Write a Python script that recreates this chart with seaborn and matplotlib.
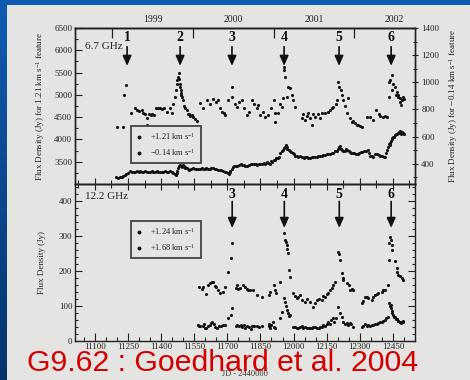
import numpy as np
import pandas as pd
import matplotlib
matplotlib.use("Agg")
import matplotlib.pyplot as plt
import seaborn as sns
from matplotlib.ticker import MultipleLocator, FixedLocator
from matplotlib.lines import Line2D
from matplotlib.patches import Rectangle

# ---------------- data ----------------
# 6.7 GHz, +1.21 km/s feature (left axis, Jy)
m67a_jd = [11200, 11228, 11230, 11241, 11262, 11280, 11292, 11300, 11312, 11320, 11328, 11335, 11337, 11345,
           11352, 11360, 11368, 11375, 11385, 11395, 11405, 11415, 11425, 11440, 11448, 11455, 11462, 11467,
           11471, 11474, 11477, 11481, 11483, 11484, 11486, 11488, 11490, 11492, 11494, 11500, 11505, 11510,
           11516, 11520, 11526, 11532, 11539, 11546, 11554, 11561, 11576, 11590, 11607, 11620, 11637, 11648,
           11659, 11668, 11675, 11683, 11690, 11705, 11720, 11723, 11735, 11743, 11752, 11765, 11775, 11788,
           11800, 11811, 11822, 11833, 11840, 11848, 11860, 11871, 11886, 11900, 11913, 11916, 11918, 11928,
           11938, 11946, 11954, 11957, 11958, 11960, 11969, 11977, 11984, 11992, 11999, 12007, 12037, 12044,
           12052, 12060, 12067, 12075, 12082, 12090, 12097, 12110, 12120, 12130, 12143, 12155, 12165, 12172,
           12180, 12190, 12196, 12203, 12206, 12215, 12221, 12226, 12233, 12241, 12248, 12256, 12263, 12270,
           12279, 12287, 12294, 12302, 12309, 12332, 12347, 12362, 12372, 12385, 12392, 12407, 12415, 12422,
           12433, 12434, 12437, 12445, 12448, 12452, 12460, 12463, 12467, 12472, 12475, 12480, 12483, 12486,
           12490, 12495, 12498]
m67a_flux = [4290, 4280, 5000, 5220, 4600, 4700, 4660, 4640, 4660, 4590, 4560, 4470, 4330, 4560,
             4550, 4570, 4540, 4700, 4700, 4700, 4690, 4700, 4620, 4700, 4600, 4800, 4950, 5100,
             5250, 5330, 5400, 5500, 5350, 5250, 5180, 5100, 5050, 5000, 4950, 4880, 4750, 4700,
             4660, 4580, 4560, 4520, 4550, 4500, 4450, 4420, 4810, 4700, 4880, 4800, 4900, 4850,
             4880, 4700, 4620, 4600, 4550, 4880, 5180, 4960, 4800, 4730, 4850, 4880, 4700, 4550,
             4620, 4880, 4800, 4700, 4780, 4550, 4620, 4510, 4550, 4700, 4880, 4590, 4400, 4590,
             4800, 4730, 4920, 5620, 5550, 5400, 4960, 5180, 5150, 5000, 4880, 4730, 4470, 4560,
             4430, 4520, 4590, 4480, 4320, 4560, 4510, 4580, 4470, 4600, 4590, 4620, 4660, 4700,
             4730, 4800, 4880, 5290, 5180, 5110, 5000, 4880, 4750, 4590, 4920, 4470, 4400, 4420,
             4360, 4330, 4320, 4300, 4290, 4510, 4510, 4440, 4660, 4560, 4520, 4500, 4520, 4510,
             5290, 4960, 5330, 5440, 5110, 5250, 5180, 5000, 5070, 4950, 5000, 4850, 4920, 4770,
             4880, 4960, 4900]

# 6.7 GHz, -0.14 km/s feature (right axis, Jy)
m67b_jd = [11195, 11205, 11215, 11222, 11228, 11235, 11241, 11250, 11259, 11268, 11275, 11283, 11290, 11298,
           11305, 11312, 11320, 11328, 11335, 11342, 11350, 11358, 11365, 11372, 11380, 11388, 11395, 11403,
           11410, 11418, 11425, 11432, 11440, 11448, 11455, 11462, 11466, 11470, 11474, 11478, 11482, 11486,
           11490, 11494, 11498, 11502, 11506, 11510, 11516, 11522, 11528, 11535, 11545, 11552, 11560, 11568,
           11575, 11583, 11590, 11598, 11605, 11613, 11620, 11628, 11635, 11643, 11650, 11658, 11665, 11672,
           11680, 11688, 11695, 11702, 11706, 11710, 11714, 11720, 11725, 11730, 11738, 11745, 11752, 11760,
           11768, 11775, 11782, 11790, 11798, 11805, 11812, 11820, 11828, 11835, 11842, 11850, 11858, 11865,
           11872, 11880, 11886, 11892, 11898, 11904, 11910, 11916, 11922, 11928, 11934, 11940, 11946, 11950,
           11955, 11960, 11965, 11968, 11972, 11978, 11984, 11990, 11996, 12002, 12008, 12015, 12022, 12030,
           12037, 12045, 12052, 12060, 12067, 12075, 12082, 12090, 12097, 12105, 12112, 12120, 12128, 12135,
           12143, 12150, 12158, 12165, 12172, 12180, 12188, 12195, 12200, 12205, 12210, 12215, 12220, 12226,
           12232, 12238, 12244, 12250, 12256, 12262, 12268, 12275, 12282, 12290, 12297, 12305, 12312, 12320,
           12328, 12335, 12342, 12348, 12355, 12362, 12370, 12378, 12385, 12392, 12400, 12408, 12414, 12420,
           12424, 12428, 12432, 12435, 12438, 12442, 12445, 12448, 12452, 12456, 12460, 12464, 12468, 12472,
           12476, 12480, 12484, 12488, 12492, 12496, 12500]
m67b_flux = [300, 295, 305, 300, 312, 315, 322, 330, 345, 338, 342, 340, 348, 340,
             345, 338, 342, 345, 336, 342, 340, 345, 340, 338, 344, 340, 342, 336,
             340, 345, 342, 338, 344, 340, 330, 325, 318, 330, 345, 365, 380, 392,
             385, 378, 388, 380, 372, 365, 370, 362, 355, 360, 365, 360, 362, 358,
             362, 365, 364, 362, 365, 360, 362, 368, 366, 362, 358, 355, 356, 350,
             345, 340, 338, 330, 326, 335, 345, 362, 372, 380, 382, 385, 390, 396,
             392, 392, 386, 385, 392, 400, 396, 395, 398, 392, 398, 395, 400, 402,
             398, 410, 402, 400, 418, 412, 430, 425, 438, 445, 452, 480, 492, 500,
             515, 525, 535, 520, 510, 498, 490, 488, 475, 468, 460, 455, 450, 458,
             448, 445, 452, 448, 440, 442, 448, 446, 450, 452, 455, 458, 460, 462,
             465, 468, 470, 474, 478, 482, 490, 495, 505, 520, 530, 510, 502, 495,
             492, 505, 498, 490, 485, 482, 478, 475, 472, 470, 478, 485, 488, 490,
             495, 502, 478, 460, 455, 450, 468, 472, 465, 460, 455, 450, 448, 478,
             500, 520, 545, 555, 535, 570, 580, 590, 600, 595, 610, 620, 615, 628,
             635, 640, 625, 620, 632, 628, 615]

# 12.2 GHz, +1.24 km/s feature (Jy)
m122a_jd = [11572, 11585, 11591, 11604, 11614, 11622, 11629, 11637, 11643, 11649, 11659, 11667, 11679, 11690,
            11705, 11717, 11720, 11739, 11746, 11750, 11758, 11770, 11780, 11788, 11795, 11803, 11815, 11833,
            11856, 11890, 11892, 11912, 11916, 11920, 11939, 11957, 11962, 11965, 11968, 11970, 11974, 11978,
            11984, 11999, 12007, 12014, 12022, 12029, 12040, 12052, 12063, 12075, 12090, 12098, 12105, 12115,
            12128, 12135, 12143, 12150, 12158, 12165, 12173, 12180, 12188, 12203, 12206, 12211, 12218, 12222,
            12226, 12240, 12249, 12256, 12263, 12271, 12309, 12316, 12324, 12331, 12339, 12354, 12362, 12369,
            12377, 12384, 12399, 12407, 12414, 12427, 12433, 12437, 12440, 12445, 12448, 12434, 12460, 12467,
            12470, 12475, 12483, 12490, 12497]
m122a_flux = [154, 150, 156, 134, 161, 165, 170, 170, 158, 154, 146, 137, 141, 154,
              199, 237, 280, 151, 160, 148, 152, 161, 154, 150, 146, 145, 145, 132,
              125, 132, 140, 160, 146, 138, 170, 309, 290, 285, 275, 265, 252, 203,
              183, 137, 130, 122, 125, 132, 118, 113, 120, 113, 98, 110, 118, 120,
              118, 128, 127, 135, 137, 145, 151, 160, 170, 256, 250, 232, 194, 180,
              175, 165, 161, 146, 150, 146, 108, 115, 127, 125, 122, 118, 125, 132,
              135, 137, 141, 145, 146, 161, 280, 299, 290, 275, 261, 232, 230, 208,
              199, 190, 185, 180, 175]

# 12.2 GHz, +1.68 km/s feature (Jy)
m122b_jd = [11565, 11572, 11578, 11588, 11595, 11600, 11605, 11612, 11620, 11626, 11630, 11638, 11645, 11652,
            11660, 11670, 11680, 11690, 11705, 11717, 11720, 11739, 11745, 11752, 11760, 11768, 11775, 11782,
            11790, 11798, 11805, 11812, 11820, 11833, 11842, 11856, 11888, 11890, 11894, 11900, 11906, 11911,
            11916, 11939, 11946, 11957, 11962, 11966, 11970, 11974, 11978, 11984, 11999, 12007, 12014, 12022,
            12029, 12037, 12044, 12052, 12060, 12068, 12075, 12083, 12090, 12098, 12105, 12113, 12120, 12128,
            12135, 12143, 12150, 12158, 12163, 12170, 12178, 12185, 12192, 12203, 12211, 12218, 12226, 12233,
            12241, 12248, 12255, 12262, 12270, 12309, 12316, 12324, 12331, 12339, 12347, 12354, 12362, 12369,
            12377, 12384, 12392, 12399, 12407, 12414, 12420, 12427, 12433, 12437, 12440, 12442, 12445, 12448,
            12452, 12456, 12460, 12463, 12467, 12472, 12475, 12480, 12483, 12487, 12490, 12494, 12497]
m122b_flux = [45, 42, 42, 44, 48, 36, 38, 42, 47, 52, 55, 50, 40, 38,
              42, 44, 45, 47, 65, 75, 94, 43, 45, 44, 46, 40, 47, 38,
              42, 40, 35, 44, 44, 43, 40, 44, 42, 50, 38, 45, 55, 40,
              36, 65, 84, 122, 113, 100, 90, 80, 72, 75, 41, 40, 36, 38,
              41, 44, 38, 40, 38, 36, 37, 38, 41, 39, 36, 38, 41, 40,
              45, 42, 49, 55, 50, 60, 65, 55, 65, 98, 79, 70, 55, 50,
              51, 45, 52, 48, 41, 40, 43, 50, 42, 45, 44, 47, 45, 48,
              50, 52, 55, 54, 57, 60, 65, 70, 110, 100, 104, 95, 85, 80,
              75, 70, 68, 62, 62, 58, 58, 55, 55, 52, 54, 56, 55]

flare_numbers_67 = [1, 2, 3, 4, 5, 6]
flare_jd_67 = [11246, 11486, 11721, 11957, 12206, 12442]
flare_numbers_122 = [3, 4, 5, 6]
flare_jd_122 = [11722, 11958, 12207, 12442]

years = ["1999", "2000", "2001", "2002"]
year_start_jd = [11179.5, 11544.5, 11910.5, 12275.5]
year_mid_jd = [11362, 11727, 12093, 12458]

legend_67 = ["+1.21 km s$^{-1}$", "\u22120.14 km s$^{-1}$"]
legend_122 = ["+1.24 km s$^{-1}$", "+1.68 km s$^{-1}$"]

# ---------------- style ----------------
sns.set_theme(style="ticks")
plt.rcParams["font.family"] = ["Liberation Serif", "DejaVu Serif"]
plt.rcParams["mathtext.fontset"] = "custom"
plt.rcParams["mathtext.rm"] = "Liberation Serif"
plt.rcParams["mathtext.it"] = "Liberation Serif:italic"
plt.rcParams["mathtext.default"] = "regular"

W, H = 470, 380
fig = plt.figure(figsize=(W / 100, H / 100), dpi=100)

# slide background gradient
bg = fig.add_axes([0, 0, 1, 1], zorder=-10)
t = np.linspace(0, 1, 200)[:, None]
top_c = np.array([0.06, 0.36, 0.70])
bot_c = np.array([0.03, 0.20, 0.42])
grad = (top_c[None, None, :] * (1 - t[..., None]) + bot_c[None, None, :] * t[..., None])
grad = np.repeat(grad, 2, axis=1)
bg.imshow(grad, aspect="auto", extent=[0, 1, 0, 1])
bg.axis("off")
panel_col = "#e4e4e2"
fig.add_artist(Rectangle((7 / W, 0), 1, (H - 5) / H, transform=fig.transFigure,
                         facecolor=panel_col, edgecolor="none", zorder=-5))

ax1 = fig.add_axes([75 / W, 1 - 184 / H, 340 / W, 156 / H])
ax2 = fig.add_axes([75 / W, 1 - 341 / H, 340 / W, 157 / H])
ax1.set_facecolor("none")
ax2.set_facecolor("none")
ax1r = ax1.twinx()

dot = dict(color="#111111", s=5, linewidth=0, marker="o", legend=False)
sns.scatterplot(x=m67a_jd, y=m67a_flux, ax=ax1, **dot)
sns.scatterplot(x=m67b_jd, y=m67b_flux, ax=ax1r, **dot)
sns.scatterplot(x=m122a_jd, y=m122a_flux, ax=ax2, **dot)
sns.scatterplot(x=m122b_jd, y=m122b_flux, ax=ax2, **dot)

xlim = (11010, 12550)
for a in (ax1, ax2):
    a.set_xlim(*xlim)
    for s in a.spines.values():
        s.set_visible(True)
        s.set_linewidth(1.0)
        s.set_color("#222222")
for s in ax1r.spines.values():
    s.set_linewidth(1.0)
    s.set_color("#222222")

ax1.set_ylim(3000, 6500)
ax1r.set_ylim(250, 1400)
ax2.set_ylim(0, 450)

tick_kw = dict(colors="#222222", labelcolor="#222222", labelsize=6.5, width=0.8)
# top panel
ax1.yaxis.set_major_locator(FixedLocator(np.arange(3500, 6501, 500)))
ax1.yaxis.set_minor_locator(FixedLocator(np.arange(3250, 6500, 500)))
ax1.tick_params(axis="y", which="major", direction="in", length=5, left=True, right=False, pad=2, **tick_kw)
ax1.tick_params(axis="y", which="minor", direction="in", length=2.5, left=True, right=False, width=0.8)
ax1.xaxis.set_major_locator(FixedLocator(np.arange(11100, 12451, 150)))
ax1.xaxis.set_minor_locator(FixedLocator(np.arange(11025, 12550, 150)))
ax1.tick_params(axis="x", which="major", direction="inout", length=8, bottom=True, top=False,
                labelbottom=False, width=0.8, colors="#222222")
ax1.tick_params(axis="x", which="minor", direction="inout", length=6, bottom=True, top=False, width=0.8)

ax1r.yaxis.set_major_locator(FixedLocator(np.arange(400, 1401, 200)))
ax1r.yaxis.set_minor_locator(FixedLocator(np.arange(300, 1400, 200)))
ax1r.tick_params(axis="y", which="major", direction="inout", length=5, pad=2, **tick_kw)
ax1r.tick_params(axis="y", which="minor", direction="inout", length=3, width=0.8)

sec = ax1.secondary_xaxis("top")
sec.set_xticks(year_start_jd, labels=["" for _ in year_start_jd])
sec.set_xticks(year_mid_jd, labels=years, minor=True)
sec.tick_params(which="major", direction="in", length=7, width=0.9, colors="#222222")
sec.tick_params(which="minor", length=0, labelsize=7, pad=3, labelcolor="#222222")
sec.spines["top"].set_linewidth(1.0)
sec.spines["top"].set_color("#222222")

# bottom panel
ax2.yaxis.set_major_locator(FixedLocator(np.arange(0, 401, 100)))
ax2.yaxis.set_minor_locator(MultipleLocator(20))
ax2.tick_params(axis="y", which="major", direction="in", length=5, left=True, right=True, pad=2, **tick_kw)
ax2.tick_params(axis="y", which="minor", direction="in", length=2.5, left=True, right=True, width=0.8)
ax2.xaxis.set_major_locator(FixedLocator(np.arange(11100, 12451, 150)))
ax2.xaxis.set_minor_locator(MultipleLocator(50))
ax2.tick_params(axis="x", which="major", direction="in", length=6, bottom=True, top=False, pad=1.5, **tick_kw)
ax2.tick_params(axis="x", which="minor", direction="in", length=3, bottom=True, top=False, width=0.8)

# labels
ax1.set_ylabel("Flux Density (Jy) for 1.21 km s$^{-1}$ feature", fontsize=6.5, color="#222222")
ax1.yaxis.set_label_coords(-(75 - 47) / 340, 0.5)
ax1r.set_ylabel("Flux Density (Jy) for \u22120.14 km s$^{-1}$ feature", fontsize=6.5, color="#222222")
ax1r.yaxis.set_label_coords(1 + (447 - 415) / 340, 0.5)
ax2.set_ylabel("Flux Density (Jy)", fontsize=6.5, color="#222222")
ax2.yaxis.set_label_coords(-(75 - 46) / 340, 0.5)
ax2.set_xlabel("")
ax1.set_xlabel("")

ax1.text(11055, 6074, "6.7 GHz", fontsize=8, va="center", ha="left", color="#222222")
ax2.text(11055, 413, "12.2 GHz", fontsize=8, va="center", ha="left", color="#222222")

arrow_kw = dict(arrowstyle="-|>,head_length=0.5,head_width=0.22", lw=1.2, color="#111111",
                shrinkA=0, shrinkB=0)
for n, jd in zip(flare_numbers_67, flare_jd_67):
    ax1r.annotate("", xy=(jd, 5650), xytext=(jd, 6080), xycoords=ax1.transData,
                  textcoords=ax1.transData, arrowprops=arrow_kw)
    ax1r.text(jd, 6290, str(n), transform=ax1.transData, ha="center", va="center",
              fontsize=10, fontweight="bold", color="#111111")
for n, jd in zip(flare_numbers_122, flare_jd_122):
    ax2.annotate("", xy=(jd, 324), xytext=(jd, 400), arrowprops=arrow_kw)
    ax2.text(jd, 419, str(n), ha="center", va="center", fontsize=10, fontweight="bold", color="#111111")

def make_legend(ax, labels, anchor):
    handles = [Line2D([], [], ls="", marker="o", ms=1.8, color="#111111", label=l) for l in labels]
    leg = ax.legend(handles=handles, loc="upper left", bbox_to_anchor=anchor, borderaxespad=0,
                    frameon=True, fancybox=False, edgecolor="#444444", facecolor=panel_col,
                    framealpha=1, fontsize=6, handlelength=0.8, handletextpad=0.9,
                    borderpad=0.6, labelspacing=0.55)
    leg.get_frame().set_linewidth(1.3)
    for tx in leg.get_texts():
        tx.set_color("#222222")
    return leg

make_legend(ax1r, legend_67, (0.165, 0.372))
make_legend(ax2, legend_122, (0.165, 0.764))

fig.text(245 / W, 1 - 374 / H, "JD - 2440000", fontsize=6, ha="center", va="center", color="#333333")
fig.text(27 / W, 1 - 363 / H, "G9.62 : Goedhard et al. 2004", fontsize=21.8, color="#d40000",
         family=["Liberation Sans", "DejaVu Sans"], ha="left", va="center", zorder=20)

fig.savefig("out.png", dpi=100)
